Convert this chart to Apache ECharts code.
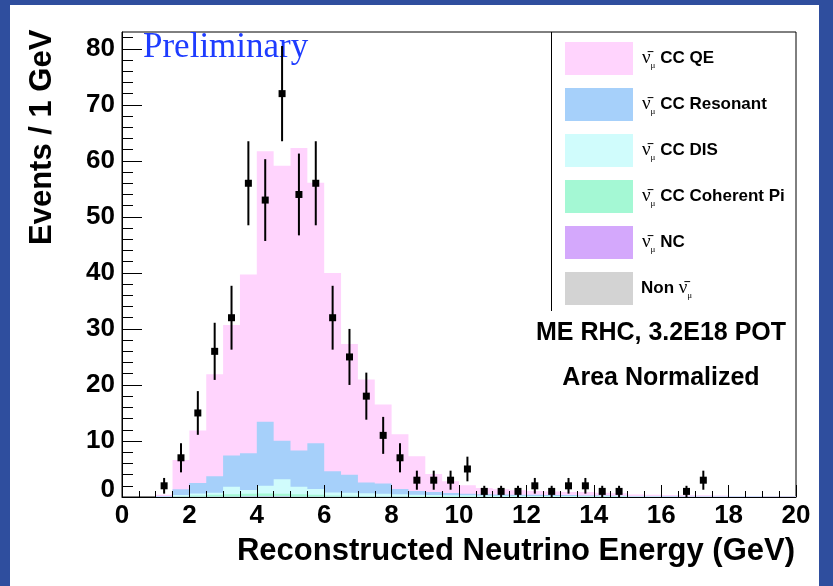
<!DOCTYPE html>
<html>
<head>
<meta charset="utf-8">
<script src="https://cdn.jsdelivr.net/npm/echarts@6/dist/echarts.min.js"></script>
<style>
  html, body { margin: 0; padding: 0; background: #fff; }
  #chart { width: 833px; height: 586px; }
</style>
</head>
<body>
<div id="chart"></div>
<script>
// Histogram binning: 40 bins of 0.5 GeV from 0 to 20 GeV
const binStart = 0;
const binWidth = 0.5;

// Monte Carlo components, events per bin (stacked bottom-up: nonNumu, nc, ccCoh, ccDis, ccRes, ccQe)
const ccQe   = [0,0,0.25,5.2,9.4,18.2,23.3,31.9,48.3,49.1,54.0,46.5,35.4,23.3,18.4,14.1,9.8,6.2,3.2,2.1,1.5,1.1,0.95,0.8,0.7,0.65,0.55,0.6,0.5,0.45,0.3,0.25,0.23,0.2,0.2,0.17,0.12,0.12,0.08,0.08];
const ccRes  = [0,0,0.1,1.05,1.85,2.95,5.6,6.55,11.4,6.85,6.5,8.2,3.8,3.25,1.9,1.8,0.9,0.7,0.55,0.4,0.3,0.25,0.22,0.2,0.2,0.17,0.17,0.14,0.14,0.12,0.07,0.07,0.06,0.05,0.05,0.04,0.04,0.04,0.03,0.03];
const ccDis  = [0,0,0.05,0.2,0.35,0.35,1.3,0.7,1.4,2.6,1.3,1.0,0.5,0.5,0.5,0.45,0.38,0.3,0.27,0.23,0.23,0.2,0.18,0.16,0.15,0.14,0.13,0.12,0.1,0.09,0.05,0.05,0.04,0.04,0.04,0.03,0.03,0.03,0.02,0.02];
const ccCoh  = [0,0,0,0.12,0.25,0.35,0.45,0.5,0.55,0.5,0.45,0.35,0.25,0.2,0.16,0.12,0.1,0.08,0.07,0.06,0.06,0.05,0.05,0.05,0.04,0.04,0.04,0.03,0.03,0.03,0.02,0.02,0.02,0.02,0.02,0.01,0.01,0.01,0.01,0.01];
const nc     = [0,0,0,0.02,0.03,0.04,0.04,0.05,0.05,0.05,0.04,0.04,0.03,0.03,0.02,0.02,0.02,0.01,0.01,0.01,0.01,0,0,0,0,0,0,0,0,0,0,0,0,0,0,0,0,0,0,0];
const nonNumu= [0,0,0,0.01,0.01,0.02,0.02,0.02,0.02,0.02,0.02,0.02,0.01,0.01,0.01,0.01,0.01,0,0,0,0,0,0,0,0,0,0,0,0,0,0,0,0,0,0,0,0,0,0,0];

// Observed data per bin (null = empty bin) and its statistical error
const dataCounts = [null,null,2,7,15,26,32,56,53,72,54,56,32,25,18,11,7,3,3,3,5,1,1,1,2,1,2,2,1,1,null,null,null,1,3,null,null,null,null,null];
const dataErrors = [null,null,1.4,2.6,3.9,5.1,5.7,7.5,7.3,8.5,7.3,7.5,5.7,5.0,4.2,3.3,2.6,1.7,1.7,1.7,2.2,1,1,1,1.4,1,1.4,1.4,1,1,null,null,null,1,1.7,null,null,null,null,null];

// Axis ticks
const xTickLabels = [0,2,4,6,8,10,12,14,16,18,20];
const yMajorTicks = [0,10,20,30,40,50,60,70,80];
const yMinorTicks = [2,4,6,8,12,14,16,18,22,24,26,28,32,34,36,38,42,44,46,48,52,54,56,58,62,64,66,68,72,74,76,78,82];

const layers = [
  { name: 'ν̄μ CC QE',            values: ccQe,    color: '#ffd4fd' },
  { name: 'ν̄μ CC Resonant',      values: ccRes,   color: '#a6d0fa' },
  { name: 'ν̄μ CC DIS',           values: ccDis,   color: '#d0fcfc' },
  { name: 'ν̄μ CC Coherent Pi',   values: ccCoh,   color: '#a4f8d4' },
  { name: 'ν̄μ NC',               values: nc,      color: '#d4a8fc' },
  { name: 'Non ν̄μ',              values: nonNumu, color: '#d3d3d3' }
];

// cumulative height of each layer = its own value plus everything stacked below it
const nBins = ccQe.length;
const cumulative = layers.map((layer, k) => {
  const out = new Array(nBins).fill(0);
  for (let j = k; j < layers.length; j++) {
    for (let i = 0; i < nBins; i++) out[i] += layers[j].values[i];
  }
  return out;
});

function stepPolygon(tops) {
  return function (params, api) {
    const pts = [];
    for (let i = 0; i < nBins; i++) {
      const x0 = binStart + i * binWidth;
      const x1 = x0 + binWidth;
      pts.push(api.coord([x0, tops[i]]));
      pts.push(api.coord([x1, tops[i]]));
    }
    pts.push(api.coord([binStart + nBins * binWidth, 0]));
    pts.push(api.coord([binStart, 0]));
    return { type: 'polygon', shape: { points: pts }, style: { fill: api.visual('color'), stroke: null } };
  };
}

const layerSeries = layers.map((layer, k) => ({
  name: layer.name,
  type: 'custom',
  coordinateSystem: 'cartesian2d',
  xAxisIndex: 0,
  yAxisIndex: 0,
  itemStyle: { color: layer.color },
  data: [[0, 0]],
  encode: { x: 0, y: 1 },
  silent: true,
  z: 2,
  renderItem: stepPolygon(cumulative[k])
}));

const pointData = [];
dataCounts.forEach((c, i) => {
  if (c !== null) pointData.push([binStart + (i + 0.5) * binWidth, c, dataErrors[i]]);
});

const dataSeries = {
  name: 'Data',
  type: 'custom',
  coordinateSystem: 'cartesian2d',
  xAxisIndex: 0,
  yAxisIndex: 0,
  data: pointData,
  encode: { x: 0, y: 1 },
  z: 5,
  renderItem: function (params, api) {
    const x = api.value(0), y = api.value(1), e = api.value(2);
    const c = api.coord([x, y]);
    const hi = api.coord([x, y + e]);
    const lo = api.coord([x, Math.max(0, y - e)]);
    return {
      type: 'group',
      children: [
        { type: 'line', shape: { x1: c[0], y1: hi[1], x2: c[0], y2: lo[1] }, style: { stroke: '#000', lineWidth: 2 } },
        { type: 'rect', shape: { x: c[0] - 3.5, y: c[1] - 3.5, width: 7, height: 7 }, style: { fill: '#000' } }
      ]
    };
  }
};

const labelFont = 'Liberation Sans';
const chart = echarts.init(document.getElementById('chart'), null, { renderer: 'canvas' });

chart.setOption({
  animation: false,
  backgroundColor: '#ffffff',
  grid: { left: 122, top: 32, right: 37, bottom: 89, show: true, borderColor: '#000', borderWidth: 1, backgroundColor: 'transparent' },
  xAxis: {
    type: 'value', min: 0, max: 20, interval: 2, z: 10,
    axisLine: { onZero: false, lineStyle: { color: '#000', width: 1 } },
    axisTick: { inside: true, length: 12, lineStyle: { color: '#000' } },
    minorTick: { show: true, splitNumber: 4, length: 6, lineStyle: { color: '#000' } },
    splitLine: { show: false },
    axisLabel: {
      color: '#000', fontSize: 26, fontWeight: 'bold', fontFamily: labelFont, margin: 6,
      customValues: xTickLabels
    }
  },
  yAxis: [
    {
      type: 'value', min: 0, max: 83, position: 'left', offset: 0, z: 10,
      axisLine: { show: true, lineStyle: { color: '#000', width: 1 } },
      axisTick: { show: true, inside: true, length: 20, lineStyle: { color: '#000' }, customValues: yMajorTicks },
      splitLine: { show: false },
      axisLabel: {
        color: '#000', fontSize: 26, fontWeight: 'bold', fontFamily: labelFont, margin: 7,
        customValues: yMajorTicks,
        formatter: v => (v === 0 ? '{z|0}' : String(v)),
        rich: { z: { fontSize: 26, fontWeight: 'bold', fontFamily: labelFont, padding: [0, 0, 14, 0] } }
      }
    },
    {
      type: 'value', min: 0, max: 83, position: 'left', offset: 0, z: 10,
      axisLine: { show: false },
      axisTick: { show: true, inside: true, length: 11, lineStyle: { color: '#000' }, customValues: yMinorTicks },
      splitLine: { show: false },
      axisLabel: { show: false }
    }
  ],
  legend: {
    orient: 'vertical',
    left: 560, top: 37,
    itemWidth: 68, itemHeight: 33, itemGap: 13,
    icon: 'rect',
    data: layers.map(l => l.name),
    selectedMode: false,
    formatter: function (name) {
      if (name.indexOf('Non') === 0) return '{n|Non }{nu|ν̄}{mu|μ}';
      return '{lead|ν̄}{mu|μ}{t| ' + name.replace('ν̄μ ', '') + '}';
    },
    textStyle: {
      color: '#000',
      rich: {
        t: { fontSize: 17, fontWeight: 'bold', fontFamily: labelFont, lineHeight: 24, color: '#000' },
        n: { fontSize: 17, fontWeight: 'bold', fontFamily: labelFont, lineHeight: 24, color: '#000', padding: [0, 0, 0, 3] },
        lead: { fontSize: 19, fontFamily: 'Liberation Serif', lineHeight: 24, color: '#000', padding: [0, 0, 0, 4] },
        nu: { fontSize: 19, fontFamily: 'Liberation Serif', lineHeight: 24, color: '#000' },
        mu: { fontSize: 9, fontFamily: 'Liberation Serif', lineHeight: 10, verticalAlign: 'bottom', color: '#000' }
      }
    }
  },
  graphic: [
    { type: 'rect', left: 0, top: 0, shape: { width: 833, height: 5 }, style: { fill: '#2f4e9e' }, z: 100 },
    { type: 'rect', left: 0, top: 0, shape: { width: 10, height: 586 }, style: { fill: '#2f4e9e' }, z: 100 },
    { type: 'rect', left: 819, top: 0, shape: { width: 14, height: 586 }, style: { fill: '#2f4e9e' }, z: 100 },
    { type: 'line', shape: { x1: 551.5, y1: 32, x2: 551.5, y2: 311 }, style: { stroke: '#000', lineWidth: 1 }, z: 50 },
    {
      type: 'text', x: 143, y: 48, z: 1,
      style: { text: 'Preliminary', font: '35px "Liberation Serif"', fill: '#1e3cff', textAlign: 'left', textVerticalAlign: 'middle' }
    },
    {
      type: 'text', x: 661, y: 333, z: 50,
      style: { text: 'ME RHC, 3.2E18 POT', font: 'bold 25px "Liberation Sans"', fill: '#000', textAlign: 'center', textVerticalAlign: 'middle' }
    },
    {
      type: 'text', x: 661, y: 378, z: 50,
      style: { text: 'Area Normalized', font: 'bold 25px "Liberation Sans"', fill: '#000', textAlign: 'center', textVerticalAlign: 'middle' }
    },
    {
      type: 'text', x: 795, y: 551, z: 50,
      style: { text: 'Reconstructed Neutrino Energy (GeV)', font: 'bold 31px "Liberation Sans"', fill: '#000', textAlign: 'right', textVerticalAlign: 'middle' }
    },
    {
      type: 'text', x: 42, y: 245, rotation: Math.PI / 2, z: 50,
      style: { text: 'Events / 1 GeV', font: 'bold 31px "Liberation Sans"', fill: '#000', textAlign: 'left', textVerticalAlign: 'middle' }
    }
  ],
  series: layerSeries.concat([dataSeries])
});
</script>
</body>
</html>
